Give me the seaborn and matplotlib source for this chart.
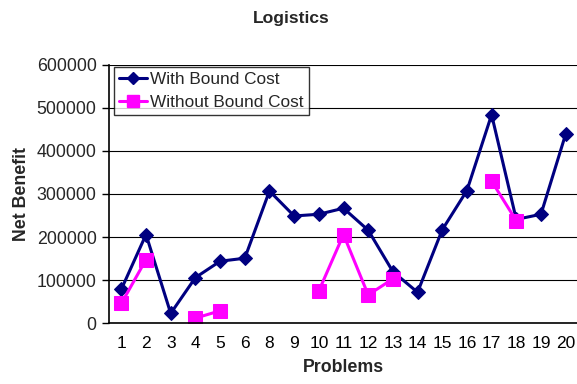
import numpy as np
import pandas as pd
import matplotlib
matplotlib.use("Agg")
import matplotlib.pyplot as plt
import seaborn as sns
from matplotlib.lines import Line2D

problems = ["1", "2", "3", "4", "5", "6", "8", "9", "10", "11", "12", "13",
            "14", "15", "16", "17", "18", "19", "20"]
with_bound = [79000, 206000, 23000, 106000, 144000, 151000, 307000, 249000,
              253000, 267000, 216000, 120000, 72000, 217000, 308000, 484000,
              241000, 253000, 439000]
without_bound = [46000, 148000, np.nan, 12000, 29000, np.nan, np.nan, np.nan,
                 75000, 206000, 66000, 103000, np.nan, np.nan, np.nan, 330000,
                 238000, np.nan, np.nan]
series_names = ["With Bound Cost", "Without Bound Cost"]

sns.set_theme(style="white")
plt.rcParams['font.family'] = ['Liberation Sans', 'DejaVu Sans']

rows = []
for name, vals in zip(series_names, [with_bound, without_bound]):
    seg = 0
    prev_nan = True
    for i, v in enumerate(vals):
        if np.isnan(v):
            prev_nan = True
            continue
        if prev_nan:
            seg += 1
        prev_nan = False
        rows.append({"pos": i, "value": v, "series": name, "seg": seg})
df = pd.DataFrame(rows)

fig = plt.figure(figsize=(5.77, 3.84), dpi=100)
ax = fig.add_axes([109/577, 60.7/384, 469/577, 258.6/384])

palette = {"With Bound Cost": "#000080", "Without Bound Cost": "#FF00FF"}
markers = {"With Bound Cost": "D", "Without Bound Cost": "s"}
sizes = {"With Bound Cost": 7, "Without Bound Cost": 9.5}
for name in series_names:
    sub = df[df.series == name]
    sns.lineplot(data=sub, x="pos", y="value", units="seg", estimator=None,
                 color=palette[name], marker=markers[name],
                 markersize=sizes[name], markeredgecolor=palette[name],
                 linewidth=2.2, ax=ax, legend=False, sort=False)

ax.set_xlim(-0.5, len(problems) - 0.5)
ax.set_ylim(0, 600000)
ax.set_yticks(np.arange(0, 600001, 100000))
ax.set_yticklabels([f"{int(v)}" for v in np.arange(0, 600001, 100000)])
ax.set_xticks(np.arange(len(problems)))
ax.set_xticklabels(problems)
ax.set_xticks(np.arange(len(problems) + 1) - 0.5, minor=True)
ax.tick_params(axis='x', which='major', length=0, pad=9, labelsize=12.5, colors='black')
ax.tick_params(axis='x', which='minor', length=4, width=1, direction='out', color='black')
ax.tick_params(axis='y', which='major', length=5, width=1, direction='out', color='black',
               labelsize=12.8, pad=4, left=True)
ax.grid(axis='y', color='black', linewidth=0.8)
ax.set_axisbelow(True)
for s in ['top', 'right']:
    ax.spines[s].set_visible(False)
for s in ['left', 'bottom']:
    ax.spines[s].set_color('black')
    ax.spines[s].set_linewidth(1.2)

ax.set_xlabel("Problems", fontsize=12.8, fontweight='bold', labelpad=6)
ax.set_ylabel("Net Benefit", fontsize=12.8, fontweight='bold', labelpad=5)
fig.text(0.505, 0.953, "Logistics", ha='center', va='center', fontsize=12.6, fontweight='bold')

handles = [Line2D([], [], color=palette[n], marker=markers[n], markersize=sizes[n] * 0.85,
                  linewidth=2.2) for n in series_names]
leg = ax.legend(handles, series_names, loc='upper left', bbox_to_anchor=(0.0107, 0.991),
                borderaxespad=0, frameon=True, fancybox=False, fontsize=12.4,
                handlelength=1.6, handletextpad=0.2, borderpad=0.3, labelspacing=0.45,
                numpoints=1)
leg.get_frame().set_edgecolor('black')
leg.get_frame().set_linewidth(1.0)

fig.savefig("out.png", dpi=100)
